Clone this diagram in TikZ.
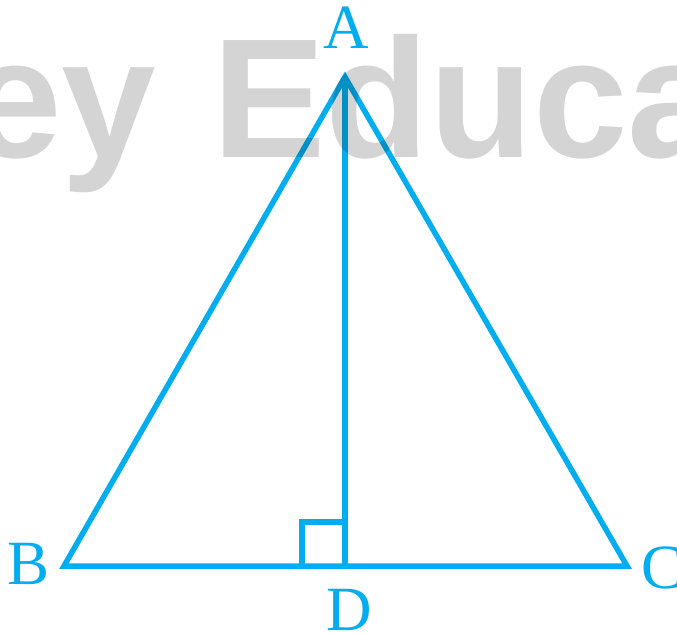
\documentclass[tikz,border=0pt]{standalone}
\usepackage{fontspec}
\setmainfont{Liberation Serif}
\newfontfamily\wmfont{Liberation Sans}
\definecolor{triblue}{RGB}{0,174,239}
\begin{document}
\begin{tikzpicture}[x=1pt,y=1pt,
  edge/.style={draw=triblue,line width=5.5pt},
  lbl/.style={text=triblue,inner sep=0pt,font=\fontsize{63}{63}\selectfont},
  wm/.style={text=black,opacity=0.17,inner sep=0pt,font=\wmfont\bfseries\fontsize{170}{170}\selectfont}]
\useasboundingbox (0,0) rectangle (677,632);
\begin{scope}
\clip (0,0) rectangle (677,632);
% vertices
\coordinate (A) at (345,555);
\coordinate (B) at (64,66);
\coordinate (C) at (627,66);
\coordinate (D) at (345,66);
\coordinate (S1) at (302,66);
\coordinate (S2) at (302,110);
\coordinate (S3) at (345,110);
% triangle and altitude
\draw[edge] (A) -- (B) -- (C) -- cycle;
\draw[edge] (A) -- (D);
\draw[edge] (S1) -- (S2) -- (S3);
% labels
\node[lbl,anchor=base] (lA) at (346.5,583) {A};
\node[lbl,anchor=base] (lB) at (29,48) {B};
\node[lbl,anchor=base west] (lC) at (641,44) {C};
\node[lbl,anchor=base] (lD) at (349.5,2) {D};
% watermark
\node[wm,anchor=base west] (wm) at (-33,474) {ey\hspace{9pt} Educa};
\end{scope}
\end{tikzpicture}
\end{document}
